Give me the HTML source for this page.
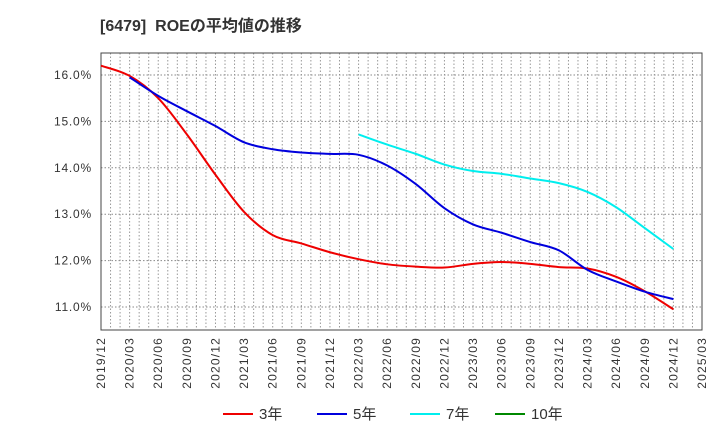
<!DOCTYPE html>
<html><head><meta charset="utf-8"><style>
body{margin:0;background:#fff;font-family:"Liberation Sans","Noto Sans CJK JP",sans-serif;}
</style></head><body>
<svg id="chart" width="720" height="440" xmlns="http://www.w3.org/2000/svg" font-family="Liberation Sans, Noto Sans CJK JP, sans-serif">
<text x="100" y="31" font-size="16" font-weight="bold" fill="#333">[6479]&#160;&#160;ROEの平均値の推移</text>
<g id="grid"></g><g id="axes"></g><g id="series"></g><g id="legend"></g>
</svg>
<script>
const xLabels=["2019/12","2020/03","2020/06","2020/09","2020/12","2021/03","2021/06","2021/09","2021/12","2022/03","2022/06","2022/09","2022/12","2023/03","2023/06","2023/09","2023/12","2024/03","2024/06","2024/09","2024/12","2025/03"];
const yTicks=[11,12,13,14,15,16];
const roe3=[16.2,15.98,15.5,14.72,13.85,13.05,12.55,12.37,12.18,12.03,11.92,11.87,11.85,11.93,11.97,11.93,11.86,11.83,11.65,11.34,10.95];
const roe5=[null,15.95,15.55,15.22,14.9,14.55,14.4,14.33,14.3,14.28,14.05,13.65,13.13,12.78,12.6,12.4,12.22,11.8,11.55,11.33,11.17];
const roe7=[null,null,null,null,null,null,null,null,null,14.72,14.5,14.3,14.07,13.93,13.87,13.77,13.67,13.48,13.15,12.7,12.25];
const roe10=[];
const L=101,R=702,T=53,B=330;
const NS="http://www.w3.org/2000/svg";
function xs(i){return L+i*(R-L)/(xLabels.length-1);}
function ys(v){return 75+(16-v)*46.4;}
function mk(tag,attrs,parent){const e=document.createElementNS(NS,tag);for(const k in attrs)e.setAttribute(k,attrs[k]);parent.appendChild(e);return e;}
const grid=document.getElementById('grid'),axes=document.getElementById('axes'),ser=document.getElementById('series'),leg=document.getElementById('legend');
const nM=(xLabels.length-1)*3;
for(let m=1;m<nM;m++){const x=L+m*(R-L)/nM;
 const g=mk('line',{x1:x,x2:x,y1:T,y2:B,stroke:'#999','stroke-dasharray':'1.5,2','stroke-width':1},grid);
 }
yTicks.forEach(v=>{const y=ys(v);
 const g=mk('line',{x1:L,x2:R,y1:y,y2:y,stroke:'#888','stroke-dasharray':'1.5,2','stroke-width':1},grid);
 
 const t=mk('text',{x:L-9,y:y+4,'text-anchor':'end','font-size':12,'letter-spacing':0.8,fill:'#333'},axes);t.textContent=v.toFixed(1)+'%';
 });
const fr=mk('rect',{x:L,y:T,width:R-L,height:B-T,fill:'none',stroke:'#444','stroke-width':1},axes);

xLabels.forEach((s,i)=>{const x=xs(i)+4;
 const t=mk('text',{x:x,y:B+7,'text-anchor':'end','font-size':12,'letter-spacing':1.2,fill:'#333',transform:`rotate(-90 ${x} ${B+7})`},axes);t.textContent=s;
 });
function path(arr){const p=[];arr.forEach((v,i)=>{if(v!=null)p.push([xs(i),ys(v)]);});
 if(p.length<2)return '';let d=`M${p[0][0]},${p[0][1]}`;
 for(let i=0;i<p.length-1;i++){const p0=p[i-1]||p[i],p1=p[i],p2=p[i+1],p3=p[i+2]||p2;
  const c1=[p1[0]+(p2[0]-p0[0])/6,p1[1]+(p2[1]-p0[1])/6],c2=[p2[0]-(p3[0]-p1[0])/6,p2[1]-(p3[1]-p1[1])/6];
  d+=` C${c1[0]},${c1[1]} ${c2[0]},${c2[1]} ${p2[0]},${p2[1]}`;}
 return d;}
const series=[[roe3,'#ee0000','3年','series-3yr'],[roe5,'#0000dd','5年','series-5yr'],[roe7,'#00eeee','7年','series-7yr'],[roe10,'#008800','10年','series-10yr']];
series.forEach(([a,c,n,nm])=>{const d=path(a);if(d){const e=mk('path',{d:d,fill:'none',stroke:c,'stroke-width':2},ser);
 }});
const lx=[223,317,410,495];
series.forEach(([a,c,n,nm],i)=>{const g=mk('g',{},leg);
 
 mk('line',{x1:lx[i],x2:lx[i]+30,y1:414,y2:414,stroke:c,'stroke-width':2},g);
 const t=mk('text',{x:lx[i]+36,y:419,'font-size':15,fill:'#333'},g);t.textContent=n;});
</script>
</body></html>
